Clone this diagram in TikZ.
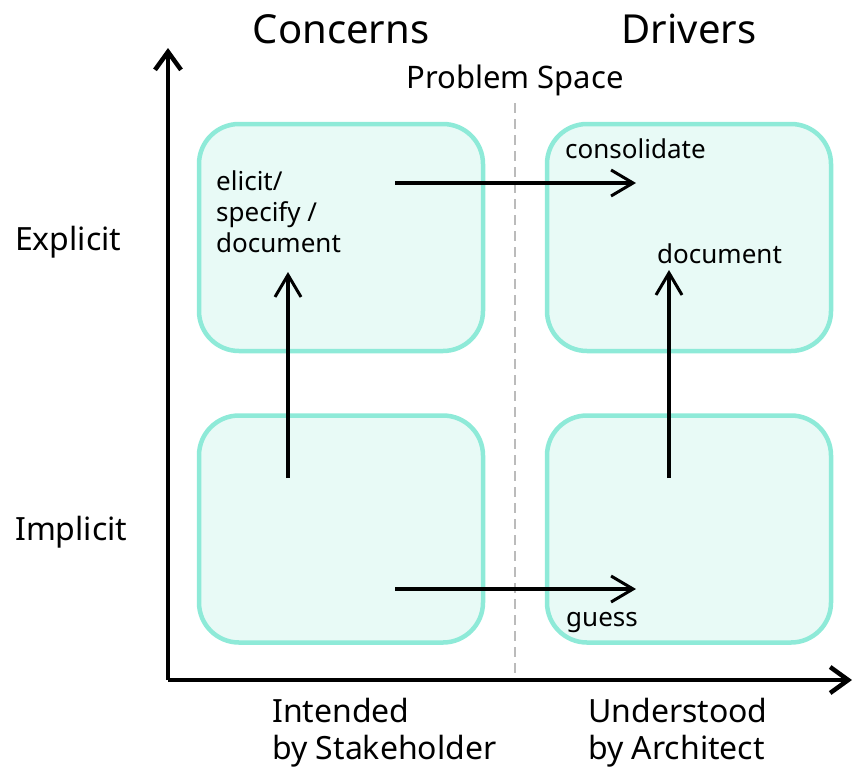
\documentclass[tikz,border=0pt]{standalone}
\usepackage{fontspec}
\setmainfont{Noto Sans}
\usetikzlibrary{arrows.meta}
\definecolor{boxline}{HTML}{8EEAD8}
\definecolor{boxfill}{HTML}{E8FAF6}
\definecolor{divider}{HTML}{BBBBBB}
\tikzset{
  quad/.style={draw=boxline, fill=boxfill, line width=4.5pt, rounded corners=40pt,
    minimum width=284pt, minimum height=227pt, inner sep=0pt},
  axis/.style={line width=4.5pt, -{Straight Barb[length=18pt,width=26pt,line width=4.5pt]}},
  flow/.style={line width=3.2pt, -{Straight Barb[length=22pt,width=26pt,line width=3pt]}},
  lbl/.style={font=\fontsize{26}{31}\selectfont, inner sep=0pt, anchor=base west, align=left},
  side/.style={font=\fontsize{32}{37}\selectfont, inner sep=0pt, anchor=base west, align=left},
  title/.style={font=\fontsize{40}{44}\selectfont, inner sep=0pt, anchor=base},
}
\begin{document}
\begin{tikzpicture}[x=1pt,y=-1pt]
\useasboundingbox (0,0) rectangle (854,769);
% quadrants
\node[quad] (cx) at (341,237.5) {};
\node[quad] (dx) at (689,237.5) {};
\node[quad] (ci) at (341,529) {};
\node[quad] (di) at (689,529) {};
% divider between concerns and drivers
\draw[divider, line width=2pt, dash pattern=on 10pt off 6pt] (515,103) -- (515,680);
% axes
\coordinate (o) at (168,680);
\coordinate (ytop) at (168,48);
\coordinate (xend) at (852,680);
\draw[axis] (o) -- (ytop);
\draw[axis] (o) -- (xend);
% headings
\node[title] (hc) at (341,43) {Concerns};
\node[title] (hd) at (689,43) {Drivers};
\node[font=\fontsize{31}{34}\selectfont, inner sep=0pt, anchor=base] (ps) at (515,88) {Problem Space};
\node[side] (ex) at (15,250) {Explicit};
\node[side] (im) at (15,540) {Implicit};
% multi-line nodes are placed by the baseline of their last line
\node[side] (ist) at (272,759) {Intended\\by Stakeholder};
\node[side] (ua) at (588,759) {Understood\\by Architect};
% quadrant labels
\node[lbl] (esd) at (216,252) {elicit/\\specify /\\document};
\node[lbl] (cons) at (565,158) {consolidate};
\node[lbl] (doc) at (657,263) {document};
\node[lbl] (gs) at (566,626) {guess};
% transitions
\coordinate (a1s) at (395,183); \coordinate (a1e) at (636,183);
\coordinate (a2s) at (395,589); \coordinate (a2e) at (636,589);
\coordinate (a3s) at (288,478); \coordinate (a3e) at (288,272);
\coordinate (a4s) at (669,478); \coordinate (a4e) at (669,270);
\draw[flow] (a1s) -- (a1e);
\draw[flow] (a2s) -- (a2e);
\draw[flow] (a3s) -- (a3e);
\draw[flow] (a4s) -- (a4e);
\end{tikzpicture}
\end{document}
